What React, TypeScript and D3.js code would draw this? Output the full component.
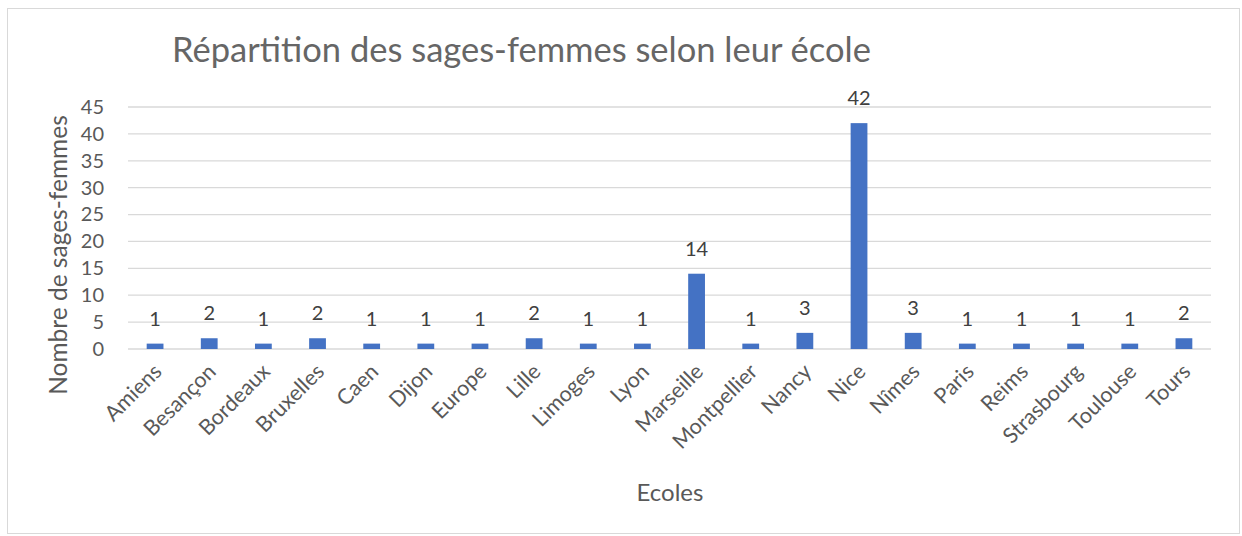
import { useEffect, useRef } from 'react';
import * as d3 from 'd3';

const ecoles = ['Amiens', 'Besançon', 'Bordeaux', 'Bruxelles', 'Caen', 'Dijon', 'Europe', 'Lille', 'Limoges', 'Lyon',
  'Marseille', 'Montpellier', 'Nancy', 'Nice', 'Nîmes', 'Paris', 'Reims', 'Strasbourg', 'Toulouse', 'Tours'];
const effectifs = [1, 2, 1, 2, 1, 1, 1, 2, 1, 1, 14, 1, 3, 42, 3, 1, 1, 1, 1, 2];
const yTicks = [0, 5, 10, 15, 20, 25, 30, 35, 40, 45];

const title = 'Répartition des sages-femmes selon leur école';
const xTitle = 'Ecoles';
const yTitle = 'Nombre de sages-femmes';

const width = 1242;
const height = 536;
const margin = { top: 107, right: 31, bottom: 187, left: 128 };
const font = 'Lato, sans-serif';
const textColor = '#595959';

export default function App() {
  const svgRef = useRef<SVGSVGElement>(null);

  useEffect(() => {
    const svg = d3.select(svgRef.current);
    svg.selectAll('*').remove();

    const boundsWidth = width - margin.left - margin.right;
    const boundsHeight = height - margin.top - margin.bottom;

    // chart frame
    svg.append('rect')
      .attr('x', 7.5).attr('y', 8.5)
      .attr('width', 1232).attr('height', 525)
      .attr('fill', '#fff')
      .attr('stroke', '#d9d9d9');

    svg.append('text')
      .attr('x', 172).attr('y', 62)
      .attr('font-family', font)
      .attr('font-size', 34.5)
      .attr('fill', '#666')
      .text(title);

    const g = svg.append('g').attr('transform', `translate(${margin.left},${margin.top})`);

    const x = d3.scaleBand().domain(ecoles).range([0, boundsWidth]).paddingInner(0.69).paddingOuter(0.345);
    const y = d3.scaleLinear().domain([0, 45]).range([boundsHeight, 0]);

    // gridlines
    g.append('g')
      .selectAll('line')
      .data(yTicks)
      .join('line')
      .attr('x1', 0).attr('x2', boundsWidth)
      .attr('y1', d => y(d)).attr('y2', d => y(d))
      .attr('stroke', '#d9d9d9')
      .attr('stroke-width', 1.3);

    // y axis labels
    const yAxis = g.append('g')
      .call(d3.axisLeft(y).tickValues(yTicks).tickSize(0).tickPadding(24));
    yAxis.select('.domain').remove();
    yAxis.selectAll('text')
      .attr('font-family', font)
      .attr('font-size', 20)
      .attr('fill', textColor);

    // bars
    g.selectAll('rect.bar')
      .data(effectifs)
      .join('rect')
      .attr('class', 'bar')
      .attr('x', (_, i) => x(ecoles[i])!)
      .attr('y', d => y(d))
      .attr('width', x.bandwidth())
      .attr('height', d => boundsHeight - y(d))
      .attr('fill', '#4472c4');

    // data labels
    g.selectAll('text.val')
      .data(effectifs)
      .join('text')
      .attr('class', 'val')
      .attr('x', (_, i) => x(ecoles[i])! + x.bandwidth() / 2)
      .attr('y', d => y(d) - 18)
      .attr('text-anchor', 'middle')
      .attr('font-family', font)
      .attr('font-size', 20)
      .attr('fill', '#404040')
      .text(d => d);

    // x axis labels
    g.append('g')
      .selectAll('text')
      .data(ecoles)
      .join('text')
      .attr('transform', d => `translate(${x(d)! + x.bandwidth() / 2 + 8},${boundsHeight + 24}) rotate(-45)`)
      .attr('text-anchor', 'end')
      .attr('font-family', font)
      .attr('font-size', 21.5)
      .attr('fill', textColor)
      .text(d => d);

    // axis titles
    svg.append('text')
      .attr('x', 670).attr('y', 501)
      .attr('text-anchor', 'middle')
      .attr('font-family', font)
      .attr('font-size', 24)
      .attr('fill', textColor)
      .text(xTitle);

    svg.append('text')
      .attr('transform', `translate(67,255) rotate(-90)`)
      .attr('text-anchor', 'middle')
      .attr('font-family', font)
      .attr('font-size', 24.5)
      .attr('fill', textColor)
      .text(yTitle);
  }, []);

  return (
    <svg ref={svgRef} width={width} height={height} style={{ position: 'absolute', left: 0, top: 0 }}></svg>
  );
}
